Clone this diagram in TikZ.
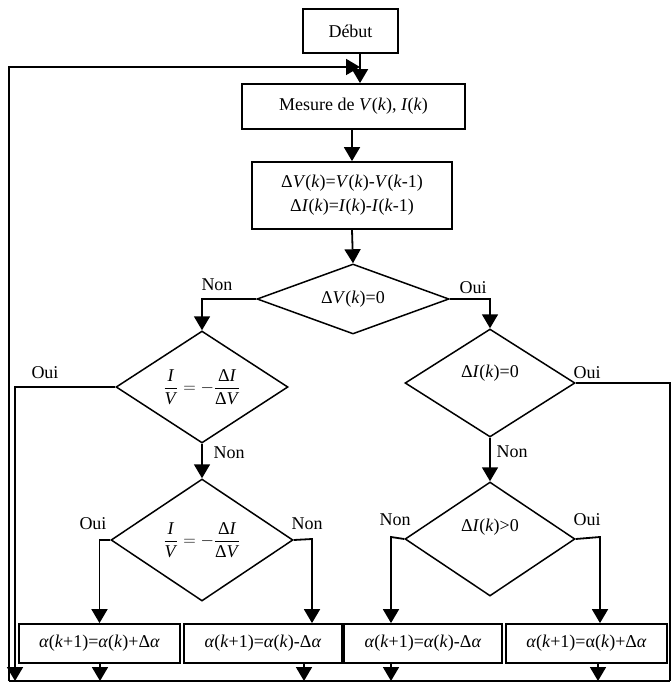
\documentclass[tikz,border=0pt]{standalone}
\usepackage{fontspec}
\setmainfont{Liberation Serif}
\usepackage{amsmath}
\usetikzlibrary{shapes.geometric,arrows.meta}

\newcommand{\kk}{\textit{k}}
\newcommand{\alf}{\textit{α}}

\begin{document}
\begin{tikzpicture}[x=1pt,y=-1pt,
        font=\fontsize{18}{24}\selectfont,
        box/.style={draw,line width=1.8pt,inner sep=0pt,align=center},
        decision/.style={draw,diamond,line width=1.5pt,inner sep=0pt},
        flow/.style={line width=1.8pt,-{Triangle[length=14pt,width=16pt]}},
        link/.style={line width=1.8pt},
        lbl/.style={inner sep=0pt}]

        \useasboundingbox (0,0) rectangle (671,682);

        % Start and measure
        \node[box,minimum width=95,minimum height=44] (debut) at (350.5,31) {Début};
        \node[box,minimum width=223,minimum height=45] (mesure) at (353.5,106.5)
            {Mesure de \textit{V}(\kk), \textit{I}(\kk)};
        \node[box,minimum width=200,minimum height=67] (delta) at (352,195.5)
            {Δ\textit{V}(\kk)=\textit{V}(\kk)-\textit{V}(\kk-1)\\
             Δ\textit{I}(\kk)=\textit{I}(\kk)-\textit{I}(\kk-1)};

        % Tests
        \node[decision,minimum width=192,minimum height=70,shape aspect=2.7] (dv) at (353,299)
            {Δ\textit{V}(\kk)=0};
        \node[decision,minimum width=172,minimum height=112,shape aspect=1.5] (iva) at (202,387)
            {$\dfrac{\text{\textit{I}}}{\text{\textit{V}}}=-\dfrac{\text{Δ\textit{I}}}{\text{Δ\textit{V}}}$};
        \node[decision,minimum width=182,minimum height=122,shape aspect=1.5] (ivb) at (202,540)
            {$\dfrac{\text{\textit{I}}}{\text{\textit{V}}}=-\dfrac{\text{Δ\textit{I}}}{\text{Δ\textit{V}}}$};
        \node[decision,minimum width=170,minimum height=108,shape aspect=1.6,
            label={[lbl,name=dinul,yshift=10]center:Δ\textit{I}(\kk)=0}] (dia) at (490,383) {};
        \node[decision,minimum width=170,minimum height=114,shape aspect=1.5,
            label={[lbl,name=dipos,yshift=12]center:Δ\textit{I}(\kk)>0}] (dib) at (490,539) {};

        % Updates of alpha
        \node[box,minimum width=161,minimum height=39] (ba) at ( 99.5,643.5) {\alf(\kk+1)=\alf(\kk)+Δ\alf};
        \node[box,minimum width=158,minimum height=39] (bb) at (263  ,643.5) {\alf(\kk+1)=\alf(\kk)-Δ\alf};
        \node[box,minimum width=158,minimum height=39] (bc) at (423  ,643.5) {\alf(\kk+1)=\alf(\kk)-Δ\alf};
        \node[box,minimum width=161,minimum height=39] (bd) at (586.5,643.5) {\alf(\kk+1)=α(\kk)+Δ\alf};

        % Labels
        \node[lbl] (nona) at (217,285) {Non};
        \node[lbl] (ouia) at (473,288) {Oui};
        \node[lbl] (ouib) at ( 45,373) {Oui};
        \node[lbl] (nonb) at (229,453) {Non};
        \node[lbl] (ouic) at ( 93,524) {Oui};
        \node[lbl] (nonc) at (307,524) {Non};
        \node[lbl] (ouid) at (587,373) {Oui};
        \node[lbl] (nond) at (512,452) {Non};
        \node[lbl] (none) at (395,520) {Non};
        \node[lbl] (ouie) at (587,520) {Oui};

        % Helper points
        \coordinate (join) at (360, 67);
        \coordinate (bl)   at (  9,681);
        \coordinate (br)   at (670,681);
        \coordinate (endb) at ( 15,681);
        \coordinate (turnc) at (312,539);
        \coordinate (turnd) at (391,537);
        \coordinate (turne) at (600,537);

        % Main line
        \draw[flow] (debut.south -| join) -- (mesure.north -| join);
        \draw[flow] (delta.north |- mesure.south) -- (delta.north);
        \draw[flow] (delta.south) -- (dv.north);

        % Branches
        \draw[flow] (dv.west) -| (iva.north);
        \draw[flow] (dv.east) -| (dia.north);
        \draw[flow] (iva.west) -| (endb);
        \draw[flow] (iva.south) -- (ivb.north);
        \draw[flow] (ivb.west) -| (ba.north);
        \draw[flow] (ivb.east) -- (turnc) -- (turnc |- bb.north);
        \draw[link] (dia.east) -| (br);
        \draw[flow] (dia.south) -- (dib.north);
        \draw[flow] (dib.west) -- (turnd) -- (turnd |- bc.north);
        \draw[flow] (dib.east) -- (turne) -- (turne |- bd.north);

        % Back to the top
        \foreach \b/\x in {ba/100,bb/304,bc/391,bd/598}{
            \coordinate (out\b) at (\x,681);
            \draw[flow] (out\b |- \b.south) -- (out\b);
        }
        \draw[link] (bl) -- (br);
        \draw[flow] (bl) |- (join);

    \end{tikzpicture}
\end{document}
